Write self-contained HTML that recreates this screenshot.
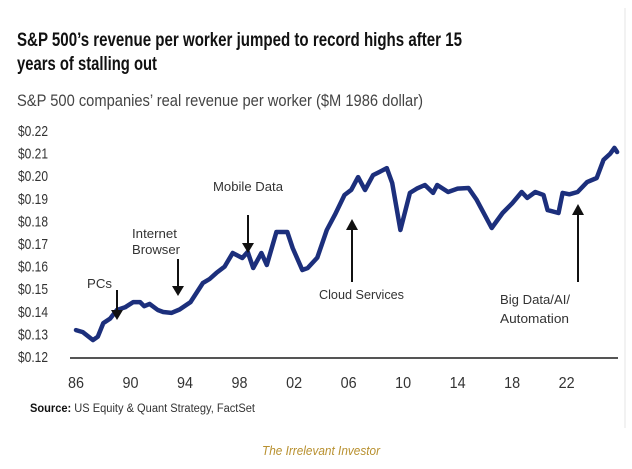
<!DOCTYPE html>
<html><head><meta charset="utf-8"><style>
html,body{margin:0;padding:0;background:#fff;}
svg{display:block;font-family:"Liberation Sans Narrow","Liberation Sans",sans-serif;}
</style></head><body>
<svg width="632" height="469" viewBox="0 0 632 469">
<rect x="0" y="0" width="632" height="469" fill="#fff"/>
<line x1="625" y1="8" x2="625" y2="428" stroke="#e6e6e6" stroke-width="1"/>
<text x="17" y="46" font-size="19" font-weight="bold" fill="#111" textLength="445" lengthAdjust="spacingAndGlyphs">S&amp;P 500’s revenue per worker jumped to record highs after 15</text>
<text x="17" y="70" font-size="19" font-weight="bold" fill="#111" textLength="140" lengthAdjust="spacingAndGlyphs">years of stalling out</text>
<text x="17" y="106" font-size="17" fill="#444" textLength="406" lengthAdjust="spacingAndGlyphs">S&amp;P 500 companies’ real revenue per worker  ($M 1986 dollar)</text>
<g id="yaxis"></g>
<g id="xaxis"></g>
<line x1="70" y1="358" x2="618" y2="358" stroke="#555" stroke-width="2"/>
<path id="series" fill="none" stroke="#1c2f7c" stroke-width="4.5" stroke-linejoin="round" stroke-linecap="round"/>
<g font-size="13" fill="#333">
<text x="87" y="288" textLength="25" lengthAdjust="spacingAndGlyphs">PCs</text>
<line x1="117" y1="290" x2="117" y2="312" stroke="#111" stroke-width="2"/><polygon points="111,310 123,310 117,320" fill="#111"/>
<text x="132" y="238" textLength="45" lengthAdjust="spacingAndGlyphs">Internet</text>
<text x="132" y="254" textLength="48" lengthAdjust="spacingAndGlyphs">Browser</text>
<line x1="178" y1="259" x2="178" y2="288" stroke="#111" stroke-width="2"/><polygon points="172,286 184,286 178,296" fill="#111"/>
<text x="213" y="191" textLength="70" lengthAdjust="spacingAndGlyphs">Mobile Data</text>
<line x1="248" y1="215" x2="248" y2="245" stroke="#111" stroke-width="2"/><polygon points="242,243 254,243 248,253" fill="#111"/>
<text x="319" y="299" textLength="85" lengthAdjust="spacingAndGlyphs">Cloud Services</text>
<line x1="352" y1="282" x2="352" y2="228" stroke="#111" stroke-width="2"/><polygon points="346,230 358,230 352,219" fill="#111"/>
<text x="500" y="304" textLength="70" lengthAdjust="spacingAndGlyphs">Big Data/AI/</text>
<text x="500" y="323" textLength="69" lengthAdjust="spacingAndGlyphs">Automation</text>
<line x1="578" y1="282" x2="578" y2="213" stroke="#111" stroke-width="2"/><polygon points="572,215 584,215 578,204" fill="#111"/>
</g>
<text x="30" y="412" font-size="11.5" fill="#333" textLength="225" lengthAdjust="spacingAndGlyphs"><tspan font-weight="bold" fill="#111">Source:</tspan> US Equity &amp; Quant Strategy, FactSet</text>
<text x="321" y="455" font-size="12.5" font-style="italic" fill="#b8902f" text-anchor="middle" textLength="118" lengthAdjust="spacingAndGlyphs">The Irrelevant Investor</text>
</svg>
<script>
const years = [1986.0,1986.5,1987.25,1987.6,1988.0,1988.5,1989.0,1989.6,1990.2,1990.7,1991.0,1991.4,1992.0,1992.4,1993.0,1993.6,1994.4,1995.3,1995.8,1996.3,1996.9,1997.5,1998.2,1998.6,1999.0,1999.6,2000.0,2000.7,2001.5,2001.9,2002.6,2003.0,2003.7,2004.4,2005.0,2005.7,2006.2,2006.7,2007.2,2007.8,2008.3,2008.8,2009.2,2009.8,2010.5,2011.0,2011.6,2012.2,2012.5,2013.3,2014.0,2014.8,2015.4,2016.5,2017.3,2018.0,2018.7,2019.1,2019.7,2020.3,2020.6,2021.4,2021.7,2022.2,2022.8,2023.5,2024.2,2024.7,2025.2,2025.5,2025.7];
const values = [0.1319,0.1310,0.1275,0.1290,0.1350,0.1370,0.1408,0.1420,0.1443,0.1443,0.1425,0.1435,0.1408,0.1399,0.1395,0.1410,0.1443,0.1527,0.1545,0.1572,0.1600,0.1660,0.1638,0.1665,0.1594,0.1660,0.1607,0.1753,0.1753,0.1682,0.1585,0.1594,0.1640,0.1762,0.1830,0.1917,0.1940,0.1996,0.1939,0.2005,0.2020,0.2036,0.1970,0.1762,0.1926,0.1945,0.1961,0.1926,0.1961,0.1930,0.1945,0.1948,0.1895,0.1771,0.1837,0.1880,0.1930,0.1904,0.1930,0.1917,0.1850,0.1837,0.1926,0.1920,0.1930,0.1974,0.1992,0.2072,0.2100,0.2125,0.2107];
const yTicks = [0.12,0.13,0.14,0.15,0.16,0.17,0.18,0.19,0.20,0.21,0.22];
const yTickLabels = ["$0.12","$0.13","$0.14","$0.15","$0.16","$0.17","$0.18","$0.19","$0.20","$0.21","$0.22"];
const xTicks = [1986,1990,1994,1998,2002,2006,2010,2014,2018,2022];
const xTickLabels = ["86","90","94","98","02","06","10","14","18","22"];

const NS = "http://www.w3.org/2000/svg";
function xScale(yr){ return 76 + (yr - 1986) * 13.63; }
function yScale(v){ return 357 - (v - 0.12) * 2260; }

const yg = document.getElementById('yaxis');
yTicks.forEach((t,i)=>{
  const tx = document.createElementNS(NS,'text');
  tx.setAttribute('x', 18);
  tx.setAttribute('y', yScale(t) + 5);
  tx.setAttribute('font-size', 15);
  tx.setAttribute('fill', '#333');
  tx.setAttribute('textLength', 30);
  tx.setAttribute('lengthAdjust', 'spacingAndGlyphs');
  tx.textContent = yTickLabels[i];
  
  
  yg.appendChild(tx);
});
const xg = document.getElementById('xaxis');
xTicks.forEach((t,i)=>{
  const tx = document.createElementNS(NS,'text');
  tx.setAttribute('x', xScale(t) - 8);
  tx.setAttribute('y', 388);
  tx.setAttribute('font-size', 16);
  tx.setAttribute('fill', '#333');
  tx.setAttribute('textLength', 16);
  tx.setAttribute('lengthAdjust', 'spacingAndGlyphs');
  tx.textContent = xTickLabels[i];
  
  
  xg.appendChild(tx);
});
let d = '';
years.forEach((yr,i)=>{ d += (i ? 'L' : 'M') + xScale(yr).toFixed(1) + ',' + yScale(values[i]).toFixed(1); });
document.getElementById('series').setAttribute('d', d);
</script>
</body></html>
